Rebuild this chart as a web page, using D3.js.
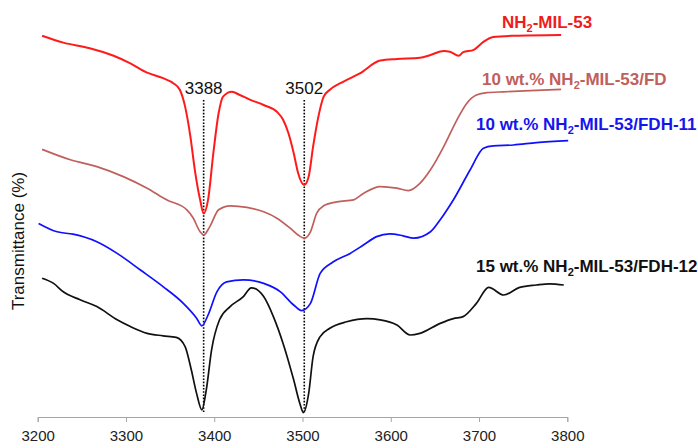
<!DOCTYPE html>
<html>
<head>
<meta charset="utf-8">
<script src="https://cdn.jsdelivr.net/npm/d3@7"></script>
<style>
  body { margin: 0; background: #fff; }
  text { font-family: "Liberation Sans", Arial, sans-serif; }
</style>
</head>
<body>
<script>
// wavenumber (cm-1) / transmittance (a.u.)
var redWn = [3205, 3229, 3259, 3286, 3305, 3324, 3342, 3354, 3361, 3367, 3373, 3378, 3384, 3388, 3393, 3399, 3405, 3410, 3420, 3429, 3441, 3456, 3471, 3478, 3484, 3490, 3495, 3502, 3507, 3512, 3518, 3524, 3531, 3546, 3565, 3588, 3607, 3633, 3645, 3660, 3667, 3677, 3682, 3694, 3705, 3716, 3739, 3793];
var redT = [95.3, 93.6, 92.2, 90.3, 88.4, 86.1, 84.7, 83.4, 81.8, 77.6, 70.1, 61.8, 54.3, 50.9, 54.3, 66, 76, 80.1, 81.3, 80.5, 79.3, 78, 76.3, 74.3, 71, 66, 61, 58, 60.1, 67.6, 75.1, 80.1, 81.8, 83.8, 85.9, 89.1, 89.5, 89.8, 90.5, 91.5, 91.3, 90.3, 91.2, 91.8, 93.8, 95, 95.3, 95.5];

var brownWn = [3205, 3237, 3267, 3297, 3324, 3346, 3369, 3376, 3384, 3388, 3395, 3405, 3418, 3437, 3456, 3471, 3486, 3495, 3502, 3509, 3516, 3524, 3539, 3558, 3569, 3588, 3607, 3620, 3633, 3645, 3660, 3675, 3686, 3697, 3709, 3728, 3758, 3793];
var brownT = [66.9, 64.3, 62.6, 60.1, 57.2, 54.3, 51.8, 49.8, 46.3, 45.5, 47.6, 51.8, 52.8, 52.4, 51.3, 49.7, 47.2, 45.5, 44.7, 46.3, 50.9, 52.8, 53.8, 54.3, 55.9, 57.6, 57.2, 56.6, 58.4, 61.8, 67.6, 74.3, 78.4, 80.5, 81.1, 81.3, 81.6, 81.9];

var blueWn = [3201, 3222, 3240, 3267, 3290, 3316, 3342, 3365, 3380, 3386, 3393, 3403, 3414, 3433, 3456, 3475, 3490, 3499, 3509, 3520, 3535, 3554, 3569, 3584, 3599, 3614, 3626, 3645, 3656, 3671, 3690, 3705, 3716, 3739, 3765, 3801];
var blueT = [48.4, 46.3, 45.7, 43.8, 40.9, 36.8, 32.6, 28.4, 24.7, 22.8, 25.5, 31.3, 33.8, 34.3, 33.4, 31.3, 28, 26.6, 28.4, 35.9, 38.8, 40.9, 43, 45.1, 45.8, 45.3, 44.7, 46.3, 49.3, 54.3, 61.8, 67.2, 67.8, 68, 68.6, 69.1];

var blackWn = [3205, 3218, 3229, 3248, 3267, 3290, 3305, 3324, 3342, 3357, 3367, 3374, 3380, 3386, 3391, 3397, 3406, 3418, 3433, 3442, 3456, 3467, 3478, 3490, 3497, 3501, 3507, 3512, 3520, 3531, 3550, 3573, 3588, 3607, 3622, 3633, 3656, 3671, 3682, 3697, 3711, 3728, 3746, 3765, 3780, 3796];
var blackT = [34.7, 33.4, 31.3, 29.3, 27.6, 24.3, 22.6, 20.9, 20.3, 19.9, 17.6, 11.8, 5.9, 1.8, 6.8, 16.8, 24.3, 27.6, 30.1, 32.3, 30.1, 25.1, 18.4, 9.3, 3.4, 1.1, 5.9, 15.1, 20.1, 22.2, 23.8, 24.6, 24.3, 23, 20.5, 20.9, 23.4, 24.6, 25.1, 28.4, 32.4, 30.5, 32.4, 33, 33.3, 33];

var xTicks = [3200, 3300, 3400, 3500, 3600, 3700, 3800];
var peaks = [3388, 3502];

var svg = d3.select("body").append("svg")
  .attr("width", 698)
  .attr("height", 448);

var x = d3.scaleLinear().domain([3200, 3800]).range([37.7, 567.3]);
var y = d3.scaleLinear().domain([0, 100]).range([417, 17]);

var xAxis = d3.axisBottom(x).tickValues(xTicks).tickSize(5).tickSizeOuter(5).tickFormat(d3.format("d"));

var gx = svg.append("g")
  .attr("transform", "translate(0," + y(0) + ")")
  .call(xAxis);
gx.select(".domain").attr("stroke", "#a6a6a6");
gx.selectAll(".tick line").attr("stroke", "#a6a6a6");
gx.selectAll(".tick text")
  .attr("dy", "1.05em")
  .style("font-size", "15px")
  .attr("fill", "#222");

svg.append("text")
  .attr("transform", "translate(24," + 241 + ") rotate(-90)")
  .attr("text-anchor", "middle")
  .style("font-size", "17px")
  .attr("fill", "#111")
  .text("Transmittance (%)");

// dotted peak markers
svg.selectAll(".peak")
  .data(peaks)
  .enter()
  .append("line")
  .attr("class", "peak")
  .attr("x1", d => x(d))
  .attr("x2", d => x(d))
  .attr("y1", 100)
  .attr("y2", 413)
  .attr("stroke", "#000")
  .attr("stroke-width", 1.6)
  .attr("stroke-dasharray", "1.6,1.6");

svg.selectAll(".peakLabel")
  .data(peaks)
  .enter()
  .append("text")
  .attr("x", d => x(d))
  .attr("y", 94)
  .attr("text-anchor", "middle")
  .style("font-size", "17px")
  .attr("fill", "#111")
  .text(d => d);

var series = [
  { wn: redWn, t: redT, color: "#ff1a1a", width: 2 },
  { wn: brownWn, t: brownT, color: "#c0605c", width: 1.7 },
  { wn: blueWn, t: blueT, color: "#1010ff", width: 1.7 },
  { wn: blackWn, t: blackT, color: "#111", width: 1.7 }
];

var line = d3.line()
  .x(d => x(d[0]))
  .y(d => y(d[1]))
  .curve(d3.curveMonotoneX);

series.forEach(function(s) {
  svg.append("path")
    .datum(d3.zip(s.wn, s.t))
    .attr("fill", "none")
    .attr("stroke", s.color)
    .attr("stroke-width", s.width)
    .attr("stroke-linejoin", "round")
    .attr("d", line);
});

// labels
var labels = [
  { pre: "", post: "-MIL-53", x: 502, y: 28, color: "#ee1c1c" },
  { pre: "10 wt.% ", post: "-MIL-53/FD", x: 482, y: 85, color: "#c0605c" },
  { pre: "10 wt.% ", post: "-MIL-53/FDH-11", x: 476, y: 130, color: "#1515ee" },
  { pre: "15 wt.% ", post: "-MIL-53/FDH-12", x: 476, y: 272, color: "#111" }
];

labels.forEach(function(l) {
  var t = svg.append("text")
    .attr("x", l.x)
    .attr("y", l.y)
    .attr("fill", l.color)
    .style("font-size", "17px")
    .style("font-weight", "bold");
  t.append("tspan").text(l.pre + "NH");
  t.append("tspan").attr("dy", 4).style("font-size", "11px").text("2");
  t.append("tspan").attr("dy", -4).text(l.post);
});
</script>
</body>
</html>
